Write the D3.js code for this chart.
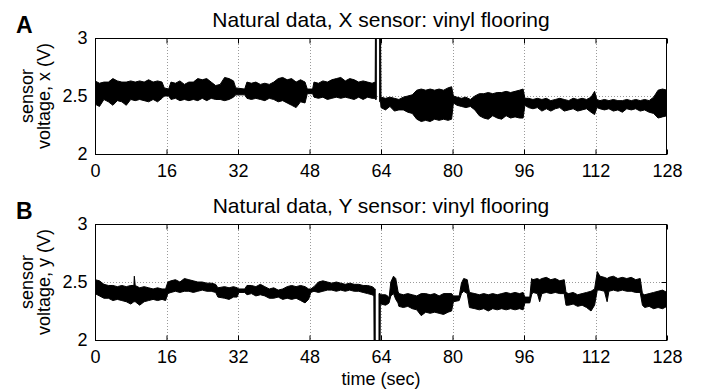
<!DOCTYPE html>
<html><head><meta charset="utf-8">
<script src="https://cdn.jsdelivr.net/npm/d3@7"></script>
<style>body{margin:0;background:#fff}svg{display:block}text{font-family:"Liberation Sans",Arial,sans-serif;fill:#000}</style>
</head><body><svg id="c" width="702" height="391"></svg>
<script>
const xTicks = [0, 16, 32, 48, 64, 80, 96, 112, 128];
const yTicks = [2, 2.5, 3];
const panelTitles = ["Natural data, X sensor: vinyl flooring", "Natural data, Y sensor: vinyl flooring"];
const panelLetters = ["A", "B"];
const yLabels = [["sensor", "voltage, x (V)"], ["sensor", "voltage, y (V)"]];
const xLabel = "time (sec)";

// X sensor: envelope (upper / lower) of the signal band
const timeX = [0,1,2,3,4,5,6,7,8,9,
  10,11,12,13,14,15,15.5,16.5,17,18,
  19,20,21,22,23,24,25,26,27,28,
  29,30,31,31.5,33.5,34,35,36,37,38,
  39,40,41,42,43,44,45,46,47,47.5,
  48.7,49,50,51,52,53,54,55,56,57,
  58,59,60,61,62,62.7,62.75,62.95,63,63.65,
  63.7,63.9,64,65,66,67,68,69,70,71,
  72,73,74,75,76,77,78,79,79.8,80.2,
  81,82,83,84,85,86,87,88,89,90,
  91,92,93,94,95,95.8,96.2,97,98,99,
  100,101,102,103,104,105,106,107,108,109,
  110,111,111.8,112.3,113,114,115,116,117,118,
  119,120,121,122,123,124,125,126,127,128];
const xUpper = [2.63,2.61,2.62,2.62,2.65,2.63,2.62,2.62,2.63,2.62,
  2.63,2.62,2.64,2.62,2.63,2.62,2.57,2.56,2.62,2.61,
  2.63,2.60,2.62,2.62,2.65,2.64,2.65,2.62,2.59,2.60,
  2.66,2.65,2.63,2.57,2.56,2.62,2.61,2.62,2.60,2.61,
  2.60,2.62,2.65,2.66,2.64,2.65,2.62,2.64,2.62,2.56,
  2.56,2.62,2.61,2.63,2.62,2.64,2.65,2.66,2.63,2.65,
  2.64,2.62,2.63,2.62,2.61,2.62,3,3,null,null,
  3,3,2.49,2.48,2.49,2.48,2.47,2.49,2.50,2.51,
  2.55,2.56,2.55,2.56,2.55,2.56,2.55,2.57,2.58,2.50,
  2.49,2.48,2.49,2.47,2.50,2.52,2.52,2.53,2.52,2.53,
  2.53,2.54,2.53,2.54,2.55,2.56,2.48,2.48,2.47,2.48,
  2.47,2.48,2.46,2.47,2.48,2.47,2.46,2.48,2.47,2.48,
  2.47,2.49,2.54,2.47,2.46,2.47,2.46,2.47,2.46,2.46,
  2.47,2.46,2.47,2.46,2.47,2.46,2.49,2.55,2.56,2.55];
const xLower = [2.43,2.41,2.47,2.45,2.42,2.46,2.45,2.42,2.47,2.46,
  2.47,2.46,2.45,2.47,2.45,2.48,2.50,2.50,2.47,2.48,
  2.46,2.47,2.46,2.47,2.46,2.48,2.46,2.48,2.47,2.47,
  2.46,2.47,2.49,2.51,2.51,2.48,2.47,2.48,2.47,2.46,
  2.48,2.47,2.45,2.46,2.44,2.42,2.40,2.45,2.44,2.52,
  2.52,2.49,2.48,2.49,2.47,2.48,2.49,2.48,2.49,2.48,
  2.47,2.49,2.47,2.49,2.48,2.48,2.47,2.47,null,null,
  2.45,2.45,2.40,2.38,2.41,2.37,2.38,2.38,2.36,2.35,
  2.30,2.28,2.29,2.28,2.30,2.29,2.30,2.29,2.30,2.44,
  2.42,2.41,2.40,2.41,2.38,2.33,2.31,2.30,2.33,2.31,
  2.30,2.33,2.31,2.32,2.31,2.31,2.42,2.40,2.39,2.40,
  2.37,2.39,2.37,2.39,2.40,2.37,2.38,2.39,2.37,2.38,
  2.39,2.36,2.34,2.40,2.39,2.38,2.39,2.37,2.38,2.36,
  2.39,2.38,2.39,2.37,2.38,2.36,2.35,2.31,2.32,2.33];

// Y sensor: envelope (upper / lower) of the signal band
const timeY = [0,1,2,3,4,5,6,7,8,8.7,
  8.8,9,10,11,12,13,14,15,15.8,16.3,
  17,18,19,20,21,22,23,24,25,26,
  27,27.5,29,30,31,31.8,32.2,33.5,34,35,
  36,37,38,39,40,41,42,43,44,45,
  46,47,47.8,48.3,49,50,51,52,53,54,
  55,56,57,58,59,60,61,62,62.4,62.45,
  62.7,62.75,63.5,63.55,63.8,63.85,64,65,65.5,65.8,
  66.2,66.8,67.3,67.8,68,69,70,71,72,73,
  74,75,76,77,78,79,79.8,80.2,81.5,82,
  82.5,83.3,83.8,85,86,87,88,89,90,91,
  92,93,94,95,95.8,96.2,97.3,97.7,98,99,
  99.5,100,101,102,103,104,105,105.4,106,107,
  108,109,110,111,111.8,112.4,113,114,114.6,115,
  116,117,118,119,120,121,122,122.5,123,124,
  125,126,127,128];
const yUpper = [2.52,2.51,2.48,2.47,2.47,2.46,2.47,2.46,2.47,2.47,
  2.55,2.47,2.45,2.46,2.45,2.44,2.45,2.44,2.44,2.50,
  2.51,2.52,2.50,2.53,2.52,2.51,2.50,2.50,2.49,2.49,
  2.48,2.45,2.46,2.45,2.46,2.45,2.44,2.44,2.47,2.47,
  2.46,2.48,2.46,2.44,2.45,2.43,2.44,2.46,2.47,2.46,
  2.47,2.46,2.44,2.44,2.46,2.50,2.51,2.50,2.49,2.50,
  2.49,2.48,2.49,2.48,2.48,2.47,2.47,2.46,2.45,2.44,
  2.44,null,null,2.40,2.40,2.39,2.39,2.39,2.38,2.36,
  2.50,2.55,2.53,2.42,2.40,2.39,2.40,2.39,2.38,2.40,
  2.40,2.39,2.40,2.38,2.40,2.40,2.40,2.38,2.38,2.49,
  2.53,2.52,2.41,2.40,2.39,2.40,2.39,2.40,2.39,2.40,
  2.41,2.40,2.41,2.40,2.41,2.37,2.37,2.53,2.52,2.53,
  2.52,2.53,2.54,2.52,2.53,2.51,2.52,2.41,2.40,2.41,
  2.39,2.40,2.41,2.42,2.44,2.59,2.55,2.54,2.53,2.54,
  2.55,2.53,2.54,2.53,2.54,2.52,2.53,2.40,2.39,2.40,
  2.41,2.42,2.43,2.41];
const yLower = [2.40,2.38,2.36,2.36,2.34,2.35,2.34,2.33,2.31,2.33,
  2.33,2.33,2.30,2.33,2.34,2.35,2.34,2.35,2.34,2.40,
  2.41,2.42,2.41,2.42,2.42,2.41,2.42,2.43,2.42,2.42,
  2.41,2.37,2.36,2.35,2.37,2.37,2.41,2.41,2.39,2.40,
  2.38,2.39,2.38,2.36,2.36,2.37,2.35,2.36,2.35,2.36,
  2.34,2.32,2.35,2.41,2.42,2.41,2.42,2.43,2.43,2.42,
  2.43,2.42,2.43,2.42,2.42,2.41,2.40,2.39,2.38,2,
  2,null,null,2,2,2.31,2.31,2.30,2.31,2.32,
  2.38,2.40,2.35,2.32,2.29,2.28,2.29,2.27,2.26,2.21,
  2.24,2.23,2.24,2.23,2.22,2.24,2.25,2.33,2.34,2.40,
  2.42,2.40,2.28,2.27,2.26,2.27,2.25,2.27,2.26,2.27,
  2.26,2.27,2.26,2.27,2.26,2.32,2.32,2.39,2.41,2.40,
  2.33,2.40,2.41,2.40,2.41,2.40,2.40,2.30,2.30,2.31,
  2.29,2.30,2.28,2.25,2.30,2.43,2.43,2.42,2.33,2.42,
  2.43,2.42,2.43,2.42,2.42,2.41,2.41,2.30,2.28,2.29,
  2.27,2.28,2.27,2.29];

const svg = d3.select("#c");
const L = 95, R = 667, H = 116;
const panelTops = [38, 224];
const series = [
  {t: timeX, u: xUpper, l: xLower},
  {t: timeY, u: yUpper, l: yLower}
];
const x = d3.scaleLinear().domain([0, 128]).range([L, R]);
const fs = 18;

series.forEach((s, i) => {
  const top = panelTops[i], bot = top + H;
  const y = d3.scaleLinear().domain([2, 3]).range([bot, top]);
  const g = svg.append("g");
  const cid = "clip" + i;
  svg.append("clipPath").attr("id", cid).append("rect")
    .attr("x", L).attr("y", top).attr("width", R - L).attr("height", H);

  // grid
  g.selectAll(".gx").data(xTicks.slice(1, -1)).join("line")
    .attr("x1", d => Math.round(x(d)) + 0.5).attr("x2", d => Math.round(x(d)) + 0.5)
    .attr("y1", top).attr("y2", bot)
    .attr("stroke", "#9a9a9a").attr("stroke-width", 1).attr("stroke-dasharray", "1,2");
  g.append("line").attr("x1", L).attr("x2", R)
    .attr("y1", Math.round(y(2.5)) + 0.5).attr("y2", Math.round(y(2.5)) + 0.5)
    .attr("stroke", "#9a9a9a").attr("stroke-width", 1).attr("stroke-dasharray", "1,2");

  // data band
  const data = s.t.map((t, k) => ({t, u: s.u[k], l: s.l[k]}));
  const area = d3.area().defined(d => d.u != null)
    .x(d => x(d.t)).y0(d => y(d.l)).y1(d => y(d.u));
  g.append("path").datum(data).attr("d", area)
    .attr("clip-path", `url(#${cid})`)
    .attr("fill", "#000").attr("stroke", "#000").attr("stroke-width", 1).attr("stroke-linejoin", "miter");

  // axes
  const ax = (gen, tx, ty, labels) => {
    const a = svg.append("g").attr("transform", `translate(${tx},${ty})`).call(gen);
    a.select(".domain").remove();
    a.selectAll("line").attr("stroke", "#000");
    a.selectAll("text").style("font-size", fs + "px").attr("fill", "#000");
    return a;
  };
  ax(d3.axisBottom(x).tickValues(xTicks).tickSize(-5).tickPadding(10).tickFormat(d3.format("d")), 0, bot + 0.5);
  ax(d3.axisTop(x).tickValues(xTicks).tickSize(-5).tickFormat(""), 0, top + 0.5);
  ax(d3.axisLeft(y).tickValues(yTicks).tickSize(-5).tickPadding(8).tickFormat(d => d === 2.5 ? "2.5" : d3.format("d")(d)), L + 0.5, 0);
  ax(d3.axisRight(y).tickValues(yTicks).tickSize(-5).tickFormat(""), R - 0.5, 0);

  // box
  g.append("rect").attr("x", L + 0.5).attr("y", top + 0.5).attr("width", R - L - 1).attr("height", H)
    .attr("fill", "none").attr("stroke", "#000").attr("stroke-width", 1);

  // title
  svg.append("text").attr("x", (L + R) / 2).attr("y", top - 11).attr("text-anchor", "middle")
    .style("font-size", "21px").text(panelTitles[i]);
  // letter
  svg.append("text").attr("x", 16).attr("y", top - 5).style("font-size", "23px").style("font-weight", "bold")
    .text(panelLetters[i]);
  // y label
  const cy = (top + bot) / 2;
  yLabels[i].forEach((txt, k) => {
    svg.append("text").attr("transform", `translate(${33 + k * 17},${cy}) rotate(-90)`)
      .attr("text-anchor", "middle").style("font-size", fs + "px").text(txt);
  });
});

svg.append("text").attr("x", (L + R) / 2).attr("y", 385).attr("text-anchor", "middle")
  .style("font-size", fs + "px").text(xLabel);
</script>
</body></html>
